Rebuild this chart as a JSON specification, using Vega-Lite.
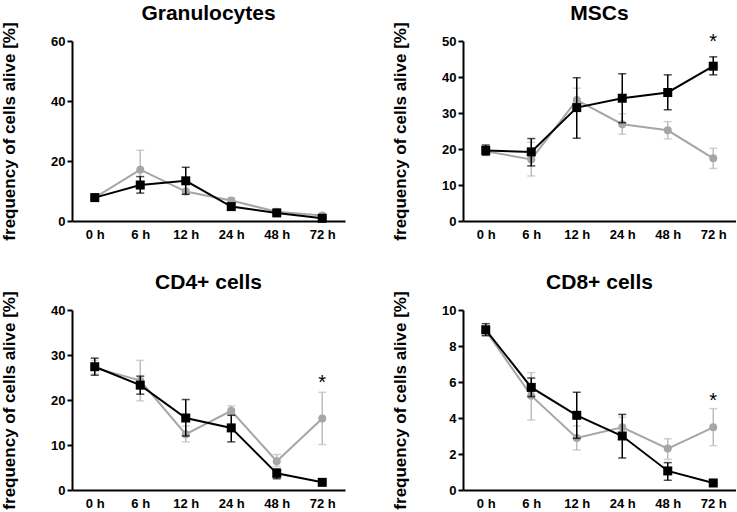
{
  "$schema": "https://vega.github.io/schema/vega-lite/v6.json",
  "padding": {"left": 0, "top": 2, "right": 0, "bottom": 0},
  "background": "white",
  "datasets": {
    "d": [
      {"panel": "Granulocytes", "time": "0 h", "group": "control", "mean": 7.8, "lo": 7.2, "hi": 8.4},
      {"panel": "Granulocytes", "time": "6 h", "group": "control", "mean": 17.1, "lo": 10.7, "hi": 23.6},
      {"panel": "Granulocytes", "time": "12 h", "group": "control", "mean": 9.8, "lo": 9.0, "hi": 10.6},
      {"panel": "Granulocytes", "time": "24 h", "group": "control", "mean": 6.8, "lo": 5.9, "hi": 7.7},
      {"panel": "Granulocytes", "time": "48 h", "group": "control", "mean": 3.1, "lo": 2.4, "hi": 3.8},
      {"panel": "Granulocytes", "time": "72 h", "group": "control", "mean": 1.8, "lo": 1.4, "hi": 2.2},
      {"panel": "Granulocytes", "time": "0 h", "group": "treated", "mean": 7.8, "lo": 7.2, "hi": 8.4},
      {"panel": "Granulocytes", "time": "6 h", "group": "treated", "mean": 12.0, "lo": 9.3, "hi": 14.8},
      {"panel": "Granulocytes", "time": "12 h", "group": "treated", "mean": 13.4, "lo": 8.9, "hi": 17.9},
      {"panel": "Granulocytes", "time": "24 h", "group": "treated", "mean": 4.8, "lo": 3.8, "hi": 5.8},
      {"panel": "Granulocytes", "time": "48 h", "group": "treated", "mean": 2.7, "lo": 1.8, "hi": 3.7},
      {"panel": "Granulocytes", "time": "72 h", "group": "treated", "mean": 0.9, "lo": 0.5, "hi": 1.3},

      {"panel": "MSCs", "time": "0 h", "group": "control", "mean": 19.4, "lo": 18.2, "hi": 20.8},
      {"panel": "MSCs", "time": "6 h", "group": "control", "mean": 17.1, "lo": 12.5, "hi": 21.9},
      {"panel": "MSCs", "time": "12 h", "group": "control", "mean": 33.6, "lo": 30.5, "hi": 36.9},
      {"panel": "MSCs", "time": "24 h", "group": "control", "mean": 26.9, "lo": 24.1, "hi": 29.8},
      {"panel": "MSCs", "time": "48 h", "group": "control", "mean": 25.2, "lo": 22.8, "hi": 27.6},
      {"panel": "MSCs", "time": "72 h", "group": "control", "mean": 17.4, "lo": 14.6, "hi": 20.2},
      {"panel": "MSCs", "time": "0 h", "group": "treated", "mean": 19.6, "lo": 18.3, "hi": 21.1},
      {"panel": "MSCs", "time": "6 h", "group": "treated", "mean": 19.2, "lo": 15.3, "hi": 22.9},
      {"panel": "MSCs", "time": "12 h", "group": "treated", "mean": 31.5, "lo": 23.0, "hi": 39.8},
      {"panel": "MSCs", "time": "24 h", "group": "treated", "mean": 34.1, "lo": 27.3, "hi": 40.9},
      {"panel": "MSCs", "time": "48 h", "group": "treated", "mean": 35.7, "lo": 30.9, "hi": 40.6},
      {"panel": "MSCs", "time": "72 h", "group": "treated", "mean": 43.0, "lo": 40.6, "hi": 45.6},

      {"panel": "CD4+ cells", "time": "0 h", "group": "control", "mean": 27.2, "lo": 25.8, "hi": 28.8},
      {"panel": "CD4+ cells", "time": "6 h", "group": "control", "mean": 24.3, "lo": 19.8, "hi": 28.8},
      {"panel": "CD4+ cells", "time": "12 h", "group": "control", "mean": 12.4, "lo": 10.7, "hi": 14.2},
      {"panel": "CD4+ cells", "time": "24 h", "group": "control", "mean": 17.6, "lo": 16.7, "hi": 18.7},
      {"panel": "CD4+ cells", "time": "48 h", "group": "control", "mean": 6.4, "lo": 5.2, "hi": 7.9},
      {"panel": "CD4+ cells", "time": "72 h", "group": "control", "mean": 15.9, "lo": 10.1, "hi": 21.7},
      {"panel": "CD4+ cells", "time": "0 h", "group": "treated", "mean": 27.4, "lo": 25.5, "hi": 29.3},
      {"panel": "CD4+ cells", "time": "6 h", "group": "treated", "mean": 23.3, "lo": 21.3, "hi": 25.3},
      {"panel": "CD4+ cells", "time": "12 h", "group": "treated", "mean": 16.0, "lo": 12.0, "hi": 20.1},
      {"panel": "CD4+ cells", "time": "24 h", "group": "treated", "mean": 13.8, "lo": 10.7, "hi": 16.6},
      {"panel": "CD4+ cells", "time": "48 h", "group": "treated", "mean": 3.7, "lo": 2.5, "hi": 4.7},
      {"panel": "CD4+ cells", "time": "72 h", "group": "treated", "mean": 1.7, "lo": 1.5, "hi": 1.9},

      {"panel": "CD8+ cells", "time": "0 h", "group": "control", "mean": 8.85, "lo": 8.6, "hi": 9.1},
      {"panel": "CD8+ cells", "time": "6 h", "group": "control", "mean": 5.24, "lo": 3.89, "hi": 6.52},
      {"panel": "CD8+ cells", "time": "12 h", "group": "control", "mean": 2.89, "lo": 2.22, "hi": 3.56},
      {"panel": "CD8+ cells", "time": "24 h", "group": "control", "mean": 3.48, "lo": 2.93, "hi": 4.04},
      {"panel": "CD8+ cells", "time": "48 h", "group": "control", "mean": 2.30, "lo": 1.70, "hi": 2.85},
      {"panel": "CD8+ cells", "time": "72 h", "group": "control", "mean": 3.48, "lo": 2.46, "hi": 4.52},
      {"panel": "CD8+ cells", "time": "0 h", "group": "treated", "mean": 8.9, "lo": 8.57, "hi": 9.24},
      {"panel": "CD8+ cells", "time": "6 h", "group": "treated", "mean": 5.70, "lo": 5.19, "hi": 6.22},
      {"panel": "CD8+ cells", "time": "12 h", "group": "treated", "mean": 4.15, "lo": 2.87, "hi": 5.43},
      {"panel": "CD8+ cells", "time": "24 h", "group": "treated", "mean": 3.0, "lo": 1.78, "hi": 4.20},
      {"panel": "CD8+ cells", "time": "48 h", "group": "treated", "mean": 1.06, "lo": 0.54, "hi": 1.52},
      {"panel": "CD8+ cells", "time": "72 h", "group": "treated", "mean": 0.39, "lo": 0.35, "hi": 0.43}
    ],
    "stars": [
      {"panel": "MSCs", "time": "72 h", "y": 51.1},
      {"panel": "CD4+ cells", "time": "72 h", "y": 25.0},
      {"panel": "CD8+ cells", "time": "72 h", "y": 5.2}
    ]
  },
  "vconcat": [
    {
      "hconcat": [
        {
          "width": 273, "height": 180,
          "title": "Granulocytes",
          "data": {"name": "d"},
          "transform": [{"filter": "datum.panel == 'Granulocytes'"}],
          "encoding": {"x": {"field": "time", "type": "ordinal", "sort": ["0 h", "6 h", "12 h", "24 h", "48 h", "72 h"], "scale": {"type": "point", "padding": 0.5}, "axis": {"title": null}}},
          "layer": [
            {"transform": [{"filter": "datum.group == 'control'"}], "mark": {"type": "errorbar", "ticks": {"size": 8}, "thickness": 1.5, "color": "#bdbdbd"},
             "encoding": {"y": {"field": "lo", "type": "quantitative", "scale": {"domain": [0, 60]}, "axis": {"values": [0, 20, 40, 60], "title": "frequency of cells alive [%]"}}, "y2": {"field": "hi"}}},
            {"transform": [{"filter": "datum.group == 'control'"}], "mark": {"type": "line", "color": "#a6a6a6", "strokeWidth": 2},
             "encoding": {"y": {"field": "mean", "type": "quantitative", "scale": {"domain": [0, 60]}, "axis": {"values": [0, 20, 40, 60], "title": "frequency of cells alive [%]"}}}},
            {"transform": [{"filter": "datum.group == 'control'"}], "mark": {"type": "point", "shape": "circle", "filled": true, "size": 64, "color": "#a6a6a6", "opacity": 1},
             "encoding": {"y": {"field": "mean", "type": "quantitative", "scale": {"domain": [0, 60]}, "axis": {"values": [0, 20, 40, 60], "title": "frequency of cells alive [%]"}}}},
            {"transform": [{"filter": "datum.group == 'treated'"}], "mark": {"type": "errorbar", "ticks": {"size": 8}, "thickness": 1.5, "color": "#000000"},
             "encoding": {"y": {"field": "lo", "type": "quantitative", "scale": {"domain": [0, 60]}, "axis": {"values": [0, 20, 40, 60], "title": "frequency of cells alive [%]"}}, "y2": {"field": "hi"}}},
            {"transform": [{"filter": "datum.group == 'treated'"}], "mark": {"type": "line", "color": "#000000", "strokeWidth": 2},
             "encoding": {"y": {"field": "mean", "type": "quantitative", "scale": {"domain": [0, 60]}, "axis": {"values": [0, 20, 40, 60], "title": "frequency of cells alive [%]"}}}},
            {"transform": [{"filter": "datum.group == 'treated'"}], "mark": {"type": "point", "shape": "square", "filled": true, "size": 81, "color": "#000000", "opacity": 1},
             "encoding": {"y": {"field": "mean", "type": "quantitative", "scale": {"domain": [0, 60]}, "axis": {"values": [0, 20, 40, 60], "title": "frequency of cells alive [%]"}}}}
          ]
        },
        {
          "width": 273, "height": 180,
          "title": "MSCs",
          "data": {"name": "d"},
          "transform": [{"filter": "datum.panel == 'MSCs'"}],
          "encoding": {"x": {"field": "time", "type": "ordinal", "sort": ["0 h", "6 h", "12 h", "24 h", "48 h", "72 h"], "scale": {"type": "point", "padding": 0.5}, "axis": {"title": null}}},
          "layer": [
            {"transform": [{"filter": "datum.group == 'control'"}], "mark": {"type": "errorbar", "ticks": {"size": 8}, "thickness": 1.5, "color": "#bdbdbd"},
             "encoding": {"y": {"field": "lo", "type": "quantitative", "scale": {"domain": [0, 50]}, "axis": {"values": [0, 10, 20, 30, 40, 50], "title": "frequency of cells alive [%]"}}, "y2": {"field": "hi"}}},
            {"transform": [{"filter": "datum.group == 'control'"}], "mark": {"type": "line", "color": "#a6a6a6", "strokeWidth": 2},
             "encoding": {"y": {"field": "mean", "type": "quantitative", "scale": {"domain": [0, 50]}, "axis": {"values": [0, 10, 20, 30, 40, 50], "title": "frequency of cells alive [%]"}}}},
            {"transform": [{"filter": "datum.group == 'control'"}], "mark": {"type": "point", "shape": "circle", "filled": true, "size": 64, "color": "#a6a6a6", "opacity": 1},
             "encoding": {"y": {"field": "mean", "type": "quantitative", "scale": {"domain": [0, 50]}, "axis": {"values": [0, 10, 20, 30, 40, 50], "title": "frequency of cells alive [%]"}}}},
            {"transform": [{"filter": "datum.group == 'treated'"}], "mark": {"type": "errorbar", "ticks": {"size": 8}, "thickness": 1.5, "color": "#000000"},
             "encoding": {"y": {"field": "lo", "type": "quantitative", "scale": {"domain": [0, 50]}, "axis": {"values": [0, 10, 20, 30, 40, 50], "title": "frequency of cells alive [%]"}}, "y2": {"field": "hi"}}},
            {"transform": [{"filter": "datum.group == 'treated'"}], "mark": {"type": "line", "color": "#000000", "strokeWidth": 2},
             "encoding": {"y": {"field": "mean", "type": "quantitative", "scale": {"domain": [0, 50]}, "axis": {"values": [0, 10, 20, 30, 40, 50], "title": "frequency of cells alive [%]"}}}},
            {"transform": [{"filter": "datum.group == 'treated'"}], "mark": {"type": "point", "shape": "square", "filled": true, "size": 81, "color": "#000000", "opacity": 1},
             "encoding": {"y": {"field": "mean", "type": "quantitative", "scale": {"domain": [0, 50]}, "axis": {"values": [0, 10, 20, 30, 40, 50], "title": "frequency of cells alive [%]"}}}},
            {"data": {"name": "stars"}, "transform": [{"filter": "datum.panel == 'MSCs'"}], "mark": {"type": "text", "text": "*", "fontSize": 20, "baseline": "middle", "dy": 5, "color": "#000000"},
             "encoding": {"y": {"field": "y", "type": "quantitative", "scale": {"domain": [0, 50]}, "axis": {"values": [0, 10, 20, 30, 40, 50], "title": "frequency of cells alive [%]"}}}}
          ]
        }
      ],
      "spacing": 46
    },
    {
      "hconcat": [
        {
          "width": 273, "height": 180,
          "title": "CD4+ cells",
          "data": {"name": "d"},
          "transform": [{"filter": "datum.panel == 'CD4+ cells'"}],
          "encoding": {"x": {"field": "time", "type": "ordinal", "sort": ["0 h", "6 h", "12 h", "24 h", "48 h", "72 h"], "scale": {"type": "point", "padding": 0.5}, "axis": {"title": null}}},
          "layer": [
            {"transform": [{"filter": "datum.group == 'control'"}], "mark": {"type": "errorbar", "ticks": {"size": 8}, "thickness": 1.5, "color": "#bdbdbd"},
             "encoding": {"y": {"field": "lo", "type": "quantitative", "scale": {"domain": [0, 40]}, "axis": {"values": [0, 10, 20, 30, 40], "title": "frequency of cells alive [%]"}}, "y2": {"field": "hi"}}},
            {"transform": [{"filter": "datum.group == 'control'"}], "mark": {"type": "line", "color": "#a6a6a6", "strokeWidth": 2},
             "encoding": {"y": {"field": "mean", "type": "quantitative", "scale": {"domain": [0, 40]}, "axis": {"values": [0, 10, 20, 30, 40], "title": "frequency of cells alive [%]"}}}},
            {"transform": [{"filter": "datum.group == 'control'"}], "mark": {"type": "point", "shape": "circle", "filled": true, "size": 64, "color": "#a6a6a6", "opacity": 1},
             "encoding": {"y": {"field": "mean", "type": "quantitative", "scale": {"domain": [0, 40]}, "axis": {"values": [0, 10, 20, 30, 40], "title": "frequency of cells alive [%]"}}}},
            {"transform": [{"filter": "datum.group == 'treated'"}], "mark": {"type": "errorbar", "ticks": {"size": 8}, "thickness": 1.5, "color": "#000000"},
             "encoding": {"y": {"field": "lo", "type": "quantitative", "scale": {"domain": [0, 40]}, "axis": {"values": [0, 10, 20, 30, 40], "title": "frequency of cells alive [%]"}}, "y2": {"field": "hi"}}},
            {"transform": [{"filter": "datum.group == 'treated'"}], "mark": {"type": "line", "color": "#000000", "strokeWidth": 2},
             "encoding": {"y": {"field": "mean", "type": "quantitative", "scale": {"domain": [0, 40]}, "axis": {"values": [0, 10, 20, 30, 40], "title": "frequency of cells alive [%]"}}}},
            {"transform": [{"filter": "datum.group == 'treated'"}], "mark": {"type": "point", "shape": "square", "filled": true, "size": 81, "color": "#000000", "opacity": 1},
             "encoding": {"y": {"field": "mean", "type": "quantitative", "scale": {"domain": [0, 40]}, "axis": {"values": [0, 10, 20, 30, 40], "title": "frequency of cells alive [%]"}}}},
            {"data": {"name": "stars"}, "transform": [{"filter": "datum.panel == 'CD4+ cells'"}], "mark": {"type": "text", "text": "*", "fontSize": 20, "baseline": "middle", "dy": 5, "color": "#000000"},
             "encoding": {"y": {"field": "y", "type": "quantitative", "scale": {"domain": [0, 40]}, "axis": {"values": [0, 10, 20, 30, 40], "title": "frequency of cells alive [%]"}}}}
          ]
        },
        {
          "width": 273, "height": 180,
          "title": "CD8+ cells",
          "data": {"name": "d"},
          "transform": [{"filter": "datum.panel == 'CD8+ cells'"}],
          "encoding": {"x": {"field": "time", "type": "ordinal", "sort": ["0 h", "6 h", "12 h", "24 h", "48 h", "72 h"], "scale": {"type": "point", "padding": 0.5}, "axis": {"title": null}}},
          "layer": [
            {"transform": [{"filter": "datum.group == 'control'"}], "mark": {"type": "errorbar", "ticks": {"size": 8}, "thickness": 1.5, "color": "#bdbdbd"},
             "encoding": {"y": {"field": "lo", "type": "quantitative", "scale": {"domain": [0, 10]}, "axis": {"values": [0, 2, 4, 6, 8, 10], "title": "frequency of cells alive [%]"}}, "y2": {"field": "hi"}}},
            {"transform": [{"filter": "datum.group == 'control'"}], "mark": {"type": "line", "color": "#a6a6a6", "strokeWidth": 2},
             "encoding": {"y": {"field": "mean", "type": "quantitative", "scale": {"domain": [0, 10]}, "axis": {"values": [0, 2, 4, 6, 8, 10], "title": "frequency of cells alive [%]"}}}},
            {"transform": [{"filter": "datum.group == 'control'"}], "mark": {"type": "point", "shape": "circle", "filled": true, "size": 64, "color": "#a6a6a6", "opacity": 1},
             "encoding": {"y": {"field": "mean", "type": "quantitative", "scale": {"domain": [0, 10]}, "axis": {"values": [0, 2, 4, 6, 8, 10], "title": "frequency of cells alive [%]"}}}},
            {"transform": [{"filter": "datum.group == 'treated'"}], "mark": {"type": "errorbar", "ticks": {"size": 8}, "thickness": 1.5, "color": "#000000"},
             "encoding": {"y": {"field": "lo", "type": "quantitative", "scale": {"domain": [0, 10]}, "axis": {"values": [0, 2, 4, 6, 8, 10], "title": "frequency of cells alive [%]"}}, "y2": {"field": "hi"}}},
            {"transform": [{"filter": "datum.group == 'treated'"}], "mark": {"type": "line", "color": "#000000", "strokeWidth": 2},
             "encoding": {"y": {"field": "mean", "type": "quantitative", "scale": {"domain": [0, 10]}, "axis": {"values": [0, 2, 4, 6, 8, 10], "title": "frequency of cells alive [%]"}}}},
            {"transform": [{"filter": "datum.group == 'treated'"}], "mark": {"type": "point", "shape": "square", "filled": true, "size": 81, "color": "#000000", "opacity": 1},
             "encoding": {"y": {"field": "mean", "type": "quantitative", "scale": {"domain": [0, 10]}, "axis": {"values": [0, 2, 4, 6, 8, 10], "title": "frequency of cells alive [%]"}}}},
            {"data": {"name": "stars"}, "transform": [{"filter": "datum.panel == 'CD8+ cells'"}], "mark": {"type": "text", "text": "*", "fontSize": 20, "baseline": "middle", "dy": 5, "color": "#000000"},
             "encoding": {"y": {"field": "y", "type": "quantitative", "scale": {"domain": [0, 10]}, "axis": {"values": [0, 2, 4, 6, 8, 10], "title": "frequency of cells alive [%]"}}}}
          ]
        }
      ],
      "spacing": 46
    }
  ],
  "spacing": 30,
  "config": {
    "font": "Liberation Sans",
    "view": {"stroke": null},
    "axis": {
      "grid": false,
      "domainColor": "#000000", "domainWidth": 2,
      "tickColor": "#000000", "tickWidth": 2,
      "labelFont": "Liberation Sans", "labelFontWeight": "bold", "labelFontSize": 13, "labelColor": "#000000",
      "titleFont": "Liberation Sans", "titleFontWeight": "bold", "titleFontSize": 17, "titleColor": "#000000"
    },
    "axisX": {"ticks": false, "tickSize": 0, "labelPadding": 7, "labelAngle": 0},
    "axisY": {"tickSize": 5, "labelPadding": 2, "titlePadding": 32},
    "title": {"font": "Liberation Sans", "fontSize": 21, "fontWeight": "bold", "color": "#000000", "anchor": "middle", "frame": "group", "baseline": "alphabetic", "offset": -2}
  }
}
